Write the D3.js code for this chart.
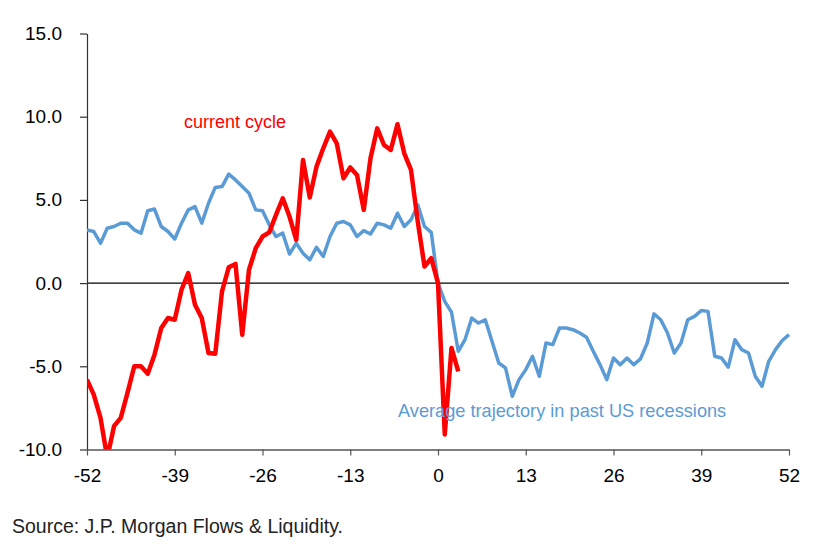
<!DOCTYPE html>
<html>
<head>
<meta charset="utf-8">
<script src="https://cdn.jsdelivr.net/npm/d3@7/dist/d3.min.js"></script>
<style>
  html, body { margin: 0; padding: 0; background: #fff; }
  svg text { font-family: "Liberation Sans", Arial, Helvetica, sans-serif; }
</style>
</head>
<body>
<svg id="chart" width="828" height="552"></svg>
<script>
// ---- data ----
const weeksBlue = d3.range(-52, 53);
const blueValues = [
  3.2, 3.1, 2.4, 3.3, 3.4, 3.6, 3.6, 3.2, 3.0, 4.35,
  4.45, 3.4, 3.1, 2.65, 3.6, 4.4, 4.6, 3.6, 4.8, 5.75,
  5.8, 6.55, 6.2, 5.8, 5.4, 4.4, 4.35, 3.5, 2.8, 3.0,
  1.75, 2.4, 1.8, 1.4, 2.15, 1.6, 2.8, 3.6, 3.7, 3.5,
  2.8, 3.15, 2.95, 3.6, 3.5, 3.3, 4.2, 3.4, 3.8, 4.7,
  3.4, 3.05, 0.0, -1.1, -1.75, -4.1, -3.4, -2.1, -2.4, -2.2,
  -3.5, -4.8, -5.1, -6.8, -5.8, -5.2, -4.4, -5.6, -3.6, -3.7,
  -2.7, -2.7, -2.8, -3.0, -3.25, -4.1, -4.9, -5.8, -4.5, -4.9,
  -4.5, -4.9, -4.55, -3.6, -1.85, -2.2, -3.0, -4.2, -3.6, -2.2,
  -2.0, -1.65, -1.7, -4.4, -4.5, -5.05, -3.4, -4.0, -4.2, -5.6,
  -6.2, -4.7, -4.0, -3.45, -3.1
];
const weeksRed = d3.range(-52, 4);
const redValues = [
  -5.8, -6.7, -8.1, -10.5, -8.6, -8.1, -6.6, -5.0, -5.0, -5.45,
  -4.3, -2.7, -2.1, -2.2, -0.4, 0.6, -1.3, -2.1, -4.2, -4.25,
  -0.5, 0.95, 1.15, -3.1, 0.8, 2.1, 2.8, 3.05, 4.1, 5.1,
  4.0, 2.6, 7.4, 5.15, 7.0, 8.1, 9.1, 8.4, 6.3, 6.95,
  6.5, 4.4, 7.5, 9.3, 8.3, 8.0, 9.55, 7.8, 6.8, 3.7,
  1.0, 1.5, 0.0, -9.1, -3.9, -5.3
];
const xTicks = [-52, -39, -26, -13, 0, 13, 26, 39, 52];
const yTicks = [-10, -5, 0, 5, 10, 15];
const labelRed = "current cycle";
const labelBlue = "Average trajectory in past US recessions";
const sourceText = "Source: J.P. Morgan Flows & Liquidity.";

// ---- chart ----
const svg = d3.select("#chart");
const plotLeft = 87, plotRight = 789, plotTop = 33.5, plotBottom = 449.5;
const x = d3.scaleLinear().domain([-52, 52]).range([plotLeft, plotRight]);
const y = d3.scaleLinear().domain([-10, 15]).range([plotBottom, plotTop]);

svg.append("defs").append("clipPath").attr("id", "plot")
  .append("rect").attr("x", plotLeft).attr("y", plotTop - 2)
  .attr("width", plotRight - plotLeft + 2).attr("height", plotBottom - plotTop + 2);

// zero line
svg.append("line")
  .attr("x1", plotLeft).attr("x2", plotRight)
  .attr("y1", y(0)).attr("y2", y(0))
  .attr("stroke", "#000").attr("stroke-width", 1.2);

// axes
const yAxis = d3.axisLeft(y).tickValues(yTicks)
  .tickFormat(d => d.toFixed(1)).tickSize(7).tickSizeOuter(0).tickPadding(18);
const gy = svg.append("g").attr("transform", `translate(${plotLeft},0)`).call(yAxis);
gy.select(".domain").attr("stroke", "#333").attr("stroke-width", 1.2);
gy.selectAll(".tick line").attr("stroke", "#333").attr("stroke-width", 1.2);
gy.selectAll("text").attr("font-size", 19).attr("fill", "#000")
  .attr("font-family", "'Liberation Sans', Arial, sans-serif");

const xAxis = d3.axisBottom(x).tickValues(xTicks)
  .tickFormat(d => String(d)).tickSize(6).tickSizeOuter(0).tickPadding(13);
const gx = svg.append("g").attr("transform", `translate(0,${plotBottom})`).call(xAxis);
gx.select(".domain").attr("stroke", "#555").attr("stroke-width", 1.4);
gx.selectAll(".tick line").attr("stroke", "#555").attr("stroke-width", 1.2);
gx.selectAll("text").attr("font-size", 19).attr("fill", "#000")
  .attr("font-family", "'Liberation Sans', Arial, sans-serif");

// lines
const line = d3.line().x(d => x(d[0])).y(d => y(d[1]));
const plot = svg.append("g").attr("clip-path", "url(#plot)");
plot.append("path")
  .datum(weeksBlue.map((w, i) => [w, blueValues[i]]))
  .attr("d", line).attr("fill", "none")
  .attr("stroke", "#5B9BD5").attr("stroke-width", 3.5)
  .attr("stroke-linejoin", "round");
plot.append("path")
  .datum(weeksRed.map((w, i) => [w, redValues[i]]))
  .attr("d", line).attr("fill", "none")
  .attr("stroke", "#FF0000").attr("stroke-width", 4.5)
  .attr("stroke-linejoin", "round");

// labels
svg.append("text").attr("x", 184).attr("y", 128)
  .attr("font-size", 18).attr("fill", "#FF0000").text(labelRed);
svg.append("text").attr("x", 398).attr("y", 417)
  .attr("font-size", 18.2).attr("fill", "#5B9BD5").text(labelBlue);
svg.append("text").attr("x", 12).attr("y", 533)
  .attr("font-size", 19.5).attr("fill", "#222").text(sourceText);
</script>
</body>
</html>
